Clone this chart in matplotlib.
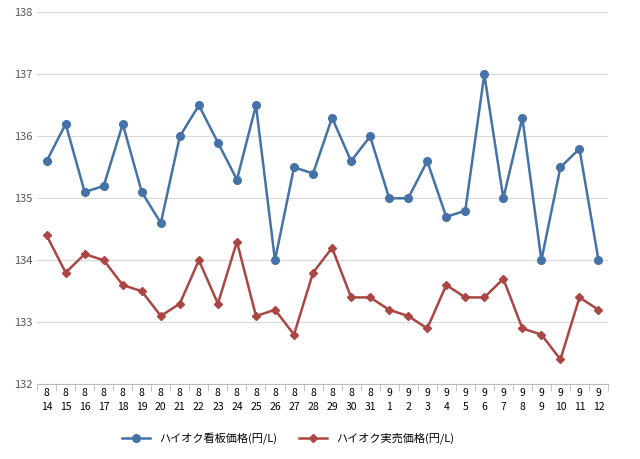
import matplotlib
matplotlib.use("Agg")
import matplotlib.pyplot as plt
from matplotlib.ticker import FixedLocator

plt.rcParams["font.family"] = ["Noto Sans CJK JP"]

months = [8]*18 + [9]*12
days = list(range(14, 32)) + list(range(1, 13))
labels = [f"{m}\n{d}" for m, d in zip(months, days)]
signboard = [135.6,136.2,135.1,135.2,136.2,135.1,134.6,136.0,136.5,135.9,135.3,136.5,134.0,135.5,135.4,136.3,135.6,136.0,135.0,135.0,135.6,134.7,134.8,137.0,135.0,136.3,134.0,135.5,135.8,134.0]
actual = [134.4,133.8,134.1,134.0,133.6,133.5,133.1,133.3,134.0,133.3,134.3,133.1,133.2,132.8,133.8,134.2,133.4,133.4,133.2,133.1,132.9,133.6,133.4,133.4,133.7,132.9,132.8,132.4,133.4,133.2]

fig = plt.figure(figsize=(6.4, 4.59), dpi=100)
ax = fig.add_axes([0.058, 0.163, 0.892, 0.81])
x = list(range(len(labels)))
ax.plot(x, signboard, color="#4572A7", marker="o", markersize=5.5, lw=1.8, label="ハイオク看板価格(円/L)")
ax.plot(x, actual, color="#AA4643", marker="D", markersize=4.5, lw=1.8, label="ハイオク実売価格(円/L)")
ax.set_ylim(132, 138)
ax.set_xlim(-0.5, len(x)-0.5)
ax.set_yticks(range(132, 139))
ax.grid(axis="y", color="#d9d9d9", lw=0.8)
ax.set_axisbelow(True)
ax.set_xticks(x)
ax.set_xticklabels(labels, fontsize=7.5, linespacing=1.4)
ax.xaxis.set_minor_locator(FixedLocator([i-0.5 for i in range(len(x)+1)]))
ax.tick_params(axis="x", which="major", length=0, pad=3)
ax.tick_params(axis="x", which="minor", length=5, color="#bbbbbb")
ax.tick_params(axis="y", length=0, labelsize=8, colors="#555555")
for s in ["top", "right", "left"]:
    ax.spines[s].set_visible(False)
ax.spines["bottom"].set_color("#bbbbbb")
fig.legend(loc="lower center", ncol=2, frameon=False, fontsize=8, bbox_to_anchor=(0.45, 0.01), handlelength=2.5, columnspacing=2)
fig.savefig("out.png", dpi=100)
